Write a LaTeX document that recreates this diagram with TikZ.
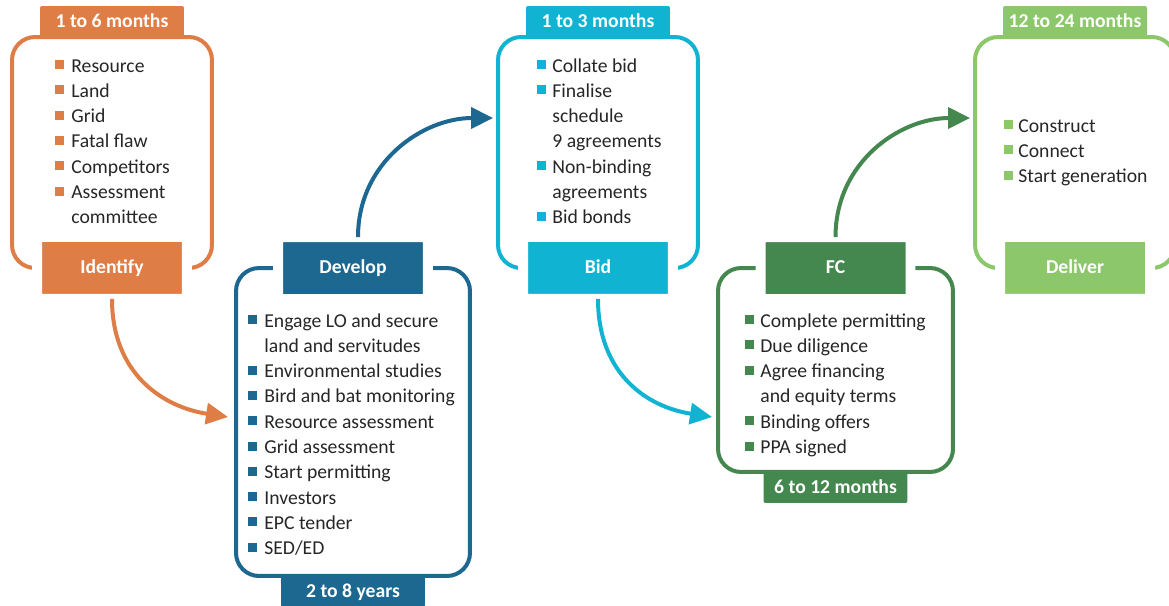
\documentclass[tikz,border=0pt]{standalone}
\usepackage{fontspec}
\setmainfont{Carlito}
\usetikzlibrary{arrows.meta}

\definecolor{idOrange}{HTML}{DE7D45}
\definecolor{devBlue}{HTML}{1C6890}
\definecolor{bidCyan}{HTML}{10B4D2}
\definecolor{fcGreen}{HTML}{44884F}
\definecolor{delGreen}{HTML}{8CC86B}
\definecolor{txtGray}{HTML}{262626}

\tikzset{
  stagebox/.style={draw=#1, line width=0.08cm, rounded corners=0.46cm, outer sep=0, inner sep=0},
  namebox/.style={fill=#1, draw=white, line width=0.2cm, rounded corners=0.06cm, outer sep=0, inner sep=0,
    minimum width=3cm, minimum height=1.24cm, text=white, font=\fontsize{11.2}{13}\selectfont\bfseries,
    text height=0.644em, text depth=0pt},
  timebox/.style={fill=#1, rounded corners=0.04cm, outer sep=0, inner sep=0,
    minimum width=2.88cm, minimum height=0.62cm, text=white, font=\fontsize{11.2}{13}\selectfont\bfseries,
    text height=0.644em, text depth=0pt},
  item/.style={anchor=base west, inner sep=0, text=txtGray},
  flow/.style={draw=#1, line width=0.08cm, -{Triangle[length=0.44cm,width=0.42cm]}},
}

% name, colour, bullet x, text x, first baseline, items (1 = bullet, 0 = follow-on line)
\newcommand\itemlist[6]{%
  \foreach \b/\t [count=\i from 0] in {#6} {
    \node[item] (#1-\i) at (#4,{#5+25.3*\i}) {\t};
    \ifnum\b=1 \fill[#2] (#3,{#5+25.3*\i-3}) rectangle ++(9,-9); \fi
  }}

\begin{document}
\begin{tikzpicture}[x=0.02cm, y=-0.02cm, font=\fontsize{11.2}{13}\selectfont]
  \clip (0,0) rectangle (1169,605);

  %%% stage outlines
  \node[stagebox=idOrange, minimum width=4cm, minimum height=4.62cm] (identifyBox) at (112,152.5) {};
  \node[stagebox=devBlue, minimum width=4.68cm, minimum height=6.16cm] (developBox) at (353,422) {};
  \node[stagebox=bidCyan, minimum width=4cm, minimum height=4.62cm] (bidBox) at (598,152.5) {};
  \node[stagebox=fcGreen, minimum width=4.7cm, minimum height=4.08cm] (fcBox) at (835.5,370) {};
  \node[stagebox=delGreen, minimum width=4cm, minimum height=4.62cm] (deliverBox) at (1075,152.5) {};

  %%% stage names
  \node[namebox=idOrange] (identify) at (identifyBox.south) {Identify};
  \node[namebox=devBlue] (develop) at (developBox.north) {Develop};
  \node[namebox=bidCyan] (bid) at (bidBox.south) {Bid};
  \node[namebox=fcGreen] (fc) at (fcBox.north) {FC};
  \node[namebox=delGreen] (deliver) at (deliverBox.south) {Deliver};

  %%% durations
  \node[timebox=idOrange, anchor=south] (identifyTime) at (identifyBox.north) {1 to 6 months};
  \node[timebox=devBlue, anchor=north] (developTime) at (developBox.south) {2 to 8 years};
  \node[timebox=bidCyan, anchor=south] (bidTime) at (bidBox.north) {1 to 3 months};
  \node[timebox=fcGreen, anchor=north] (fcTime) at (fcBox.south) {6 to 12 months};
  \node[timebox=delGreen, anchor=south] (deliverTime) at (deliverBox.north) {12 to 24 months};

  %%% task lists
  \itemlist{identify}{idOrange}{55}{71}{72}{1/Resource,1/Land,1/Grid,1/Fatal flaw,1/Competitors,1/Assessment,0/committee}
  \itemlist{develop}{devBlue}{248}{264}{327}{1/Engage LO and secure,0/land and servitudes,1/Environmental studies,1/Bird and bat monitoring,1/Resource assessment,1/Grid assessment,1/Start permitting,1/Investors,1/EPC tender,1/{SED/ED}}
  \itemlist{bid}{bidCyan}{537}{552}{72}{1/Collate bid,1/Finalise,0/schedule,0/9 agreements,1/Non-binding,0/agreements,1/Bid bonds}
  \itemlist{fc}{fcGreen}{745}{760}{327}{1/Complete permitting,1/Due diligence,1/Agree financing,0/and equity terms,1/Binding offers,1/PPA signed}
  \itemlist{deliver}{delGreen}{1004}{1018}{132}{1/Construct,1/Connect,1/Start generation}

  %%% flow arrows
  \draw[flow=idOrange] (identify.south) .. controls +(0,75) and +(-65,-10) .. ([xshift=-0.16cm,yshift=0.1cm]developBox.west);
  \draw[flow=devBlue] ([xshift=0.1cm]develop.north) .. controls +(0,-75) and +(-70,0) .. ([xshift=-0.1cm,yshift=0.69cm]bidBox.west);
  \draw[flow=bidCyan] (bid.south) .. controls +(0,75) and +(-65,-10) .. ([xshift=-0.12cm,yshift=-0.94cm]fcBox.west);
  \draw[flow=fcGreen] (fc.north) .. controls +(0,-75) and +(-70,0) .. ([xshift=-0.1cm,yshift=0.69cm]deliverBox.west);
\end{tikzpicture}
\end{document}
